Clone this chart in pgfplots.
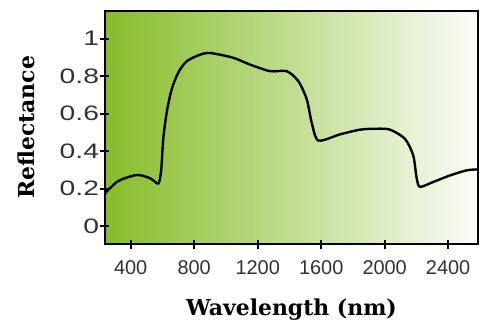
\documentclass[border=0pt]{standalone}
\usepackage{pgfplots}
\pgfplotsset{compat=1.18}
\usepackage{fontspec}
\setmainfont{Liberation Sans}
\newfontfamily\widesans[FakeStretch=1.35]{Liberation Sans}
\newfontfamily\labelfont{DejaVu Serif}
\definecolor{leafgreen}{RGB}{134,189,42}
\definecolor{ticktext}{RGB}{50,50,50}
\begin{document}
\begin{tikzpicture}
\begin{axis}[
  name=ax,
  scale only axis,
  width=373bp, height=233bp,
  xmin=238, xmax=2588,
  ymin=-0.095, ymax=1.148,
  xtick={400,800,1200,1600,2000,2400},
  ytick={0,0.2,0.4,0.6,0.8,1},
  xtick pos=bottom, ytick pos=left,
  /pgf/number format/assume math mode=true,
  /pgf/number format/1000 sep={},
  tick align=center,
  major tick length=9bp,
  tick style={line width=2pt, black},
  axis line style={line width=2.5pt, black},
  ticklabel style={text=ticktext},
  xticklabel style={font=\fontsize{20}{23}\selectfont, yshift=-9bp},
  yticklabel style={font=\widesans\fontsize{21}{24}\selectfont, xshift=2bp},
  axis background/.style={left color=leafgreen, right color=white!97!leafgreen},
  xlabel={\labelfont\bfseries Wavelength (nm)},
  ylabel={\labelfont\bfseries Reflectance},
  label style={font=\fontsize{22}{26}\selectfont, text=black},
  xlabel style={yshift=-17bp},
  ylabel style={yshift=18bp},
]
\addplot[black, line width=2.4pt, smooth, tension=0.45] coordinates {
(238,0.175) (320,0.240) (438,0.273) (522,0.256) (574,0.228)
(592,0.300) (605,0.466) (627,0.608) (658,0.730) (700,0.820)
(753,0.880) (837,0.915) (900,0.924) (1044,0.899) (1152,0.862)
(1278,0.827) (1383,0.827) (1456,0.774) (1509,0.677) (1540,0.554)
(1582,0.457) (1719,0.490) (1845,0.515) (1950,0.520) (2034,0.515)
(2128,0.466) (2180,0.377) (2202,0.254) (2223,0.210) (2306,0.236)
(2412,0.271) (2517,0.298) (2588,0.303)
};
\end{axis}
\path ([shift={(-105bp,-80bp)}]ax.south west) rectangle ([shift={(8bp,11bp)}]ax.north east);
\end{tikzpicture}
\end{document}
